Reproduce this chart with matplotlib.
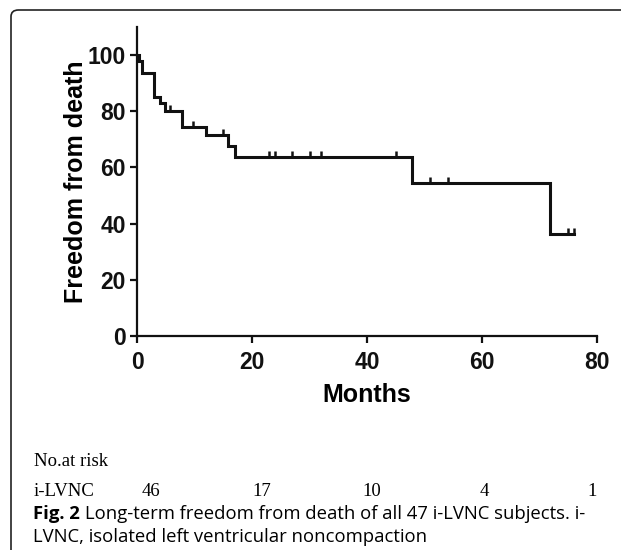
import numpy as np
import matplotlib
matplotlib.use("Agg")
import matplotlib.pyplot as plt
from matplotlib.patches import FancyBboxPatch

# ---- data ----
step_times = [0, 0.3, 0.8, 3.0, 4.0, 4.9, 7.9, 12.0, 15.9, 17.0, 47.9, 71.9]
step_surv = [100, 97.9, 93.6, 85.1, 82.9, 80.0, 74.5, 71.4, 67.6, 63.7, 54.5, 36.3]
end_time = 76.0
censor_times = [5.7, 9.8, 15.0, 23.0, 24.0, 27.0, 30.0, 32.0, 45.0, 51.0, 54.0, 75.0, 76.0]
x_ticks = [0, 20, 40, 60, 80]
y_ticks = [0, 20, 40, 60, 80, 100]
risk_label = "i-LVNC"
risk_numbers = ["46", "17", "10", "4", "1"]

W, H = 621, 550
fig = plt.figure(figsize=(W / 100, H / 100), dpi=100)

# page frame (rounded box)
frame = FancyBboxPatch((11 / W, -0.2), 1.2, 1.2 - 10 / H,
                       boxstyle="round,pad=0,rounding_size=0.012",
                       transform=fig.transFigure, fill=False,
                       edgecolor="#222222", linewidth=1.2)
fig.patches.append(frame)

ax = fig.add_axes([137 / W, 1 - 336 / H, 460 / W, 309 / H])
xs = list(step_times) + [end_time]
ys = list(step_surv) + [step_surv[-1]]
ax.step(xs, ys, where="post", color="#111111", linewidth=2.2, solid_joinstyle="miter")

# censor marks
idx = np.searchsorted(step_times, censor_times, side="right") - 1
cy = np.array(step_surv)[idx]
ax.vlines(censor_times, cy, cy + 2.2, color="#111111", linewidth=1.8)

ax.set_xlim(0, 80)
ax.set_ylim(0, 110)
ax.set_xticks(x_ticks)
ax.set_yticks(y_ticks)
for s in ["top", "right"]:
    ax.spines[s].set_visible(False)
for s in ["left", "bottom"]:
    ax.spines[s].set_linewidth(1.6)
    ax.spines[s].set_color("#111111")
ax.tick_params(direction="out", length=5, width=1.6, colors="#111111")
ax.tick_params(axis="x", pad=6)
ax.tick_params(axis="y", pad=3)
for lab in ax.get_xticklabels() + ax.get_yticklabels():
    lab.set_fontfamily("Liberation Sans")
    lab.set_fontweight("bold")
    lab.set_fontsize(16.5)
ax.set_xlabel("Months", fontfamily="Liberation Sans", fontweight="bold", fontsize=18, labelpad=6)
ax.set_ylabel("Freedom from death", fontfamily="Liberation Sans", fontweight="bold", fontsize=18, labelpad=0)
ax.patch.set_alpha(0)

# number at risk table
tkw = dict(fontfamily="Liberation Serif", fontsize=13.5, va="center")
fig.text(34 / W, 1 - 462 / H, "No.at risk", ha="left", **tkw)
fig.text(34 / W, 1 - 491 / H, risk_label, ha="left", **tkw)
risk_px = [151, 262, 372, 484, 592]
for px, n in zip(risk_px, risk_numbers):
    fig.text(px / W, 1 - 491 / H, n, ha="center", **tkw)

# caption
ckw = dict(fontfamily="Open Sans", fontsize=13.3, va="center", ha="left")
t1 = fig.text(33 / W, 1 - 514 / H, "Fig. 2", fontweight="bold", **ckw)
fig.canvas.draw()
bb = t1.get_window_extent()
fig.text((bb.x1 + 5) / W, 1 - 514 / H,
         "Long-term freedom from death of all 47 i-LVNC subjects. i-", **ckw)
fig.text(33 / W, 1 - 537 / H, "LVNC, isolated left ventricular noncompaction", **ckw)

fig.savefig("out.png", dpi=100)
